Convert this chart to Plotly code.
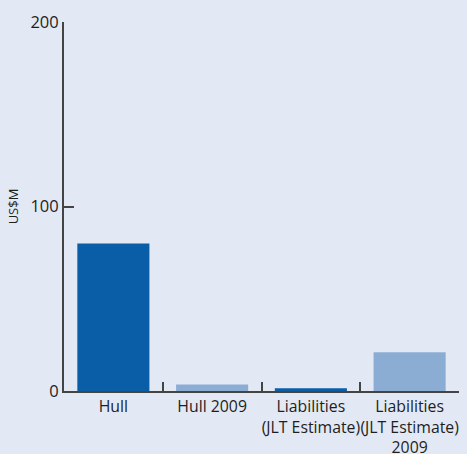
import plotly.graph_objects as go

categories = ["Hull", "Hull 2009", "Liabilities<br>(JLT Estimate)", "Liabilities<br>(JLT Estimate)<br>2009"]
values = [80, 3.5, 1.5, 21]
bar_colors = ["#0a5ea8", "#8cadd3", "#0a5ea8", "#8cadd3"]
y_ticks = [0, 100, 200]

fig = go.Figure()
fig.add_trace(go.Bar(
    x=categories, y=values, marker=dict(color=bar_colors, line=dict(width=0)),
    width=0.73,
))

axis_color = "#444444"
fig.update_layout(
    width=467, height=454,
    margin=dict(l=64, r=8, t=22, b=63),
    paper_bgcolor="#e2e9f4", plot_bgcolor="#e2e9f4",
    font=dict(family="Open Sans", size=16, color="#1e1e1e"),
    showlegend=False,
    xaxis=dict(
        showline=True, linecolor=axis_color, linewidth=2,
        ticks="inside", tickson="boundaries", ticklen=9, tickwidth=2, tickcolor=axis_color,
        showgrid=False, zeroline=False, layer="below traces",
        tickfont=dict(size=15.8), tickangle=0, automargin=False,
    ),
    yaxis=dict(
        range=[0, 200], tickvals=y_ticks, showline=True, linecolor=axis_color, linewidth=2,
        ticks="inside", ticklen=10, tickwidth=2, tickcolor=axis_color,
        showgrid=False, zeroline=False, layer="below traces",
        title=dict(text="US$M", font=dict(size=13), standoff=9),
        tickfont=dict(size=16.5), automargin=False,
    ),
)

fig.write_html(
    "out.html",
    config={"displayModeBar": False},
    post_script="document.body.style.margin='0';document.body.style.overflow='hidden';document.body.style.background='#e2e9f4';",
)
